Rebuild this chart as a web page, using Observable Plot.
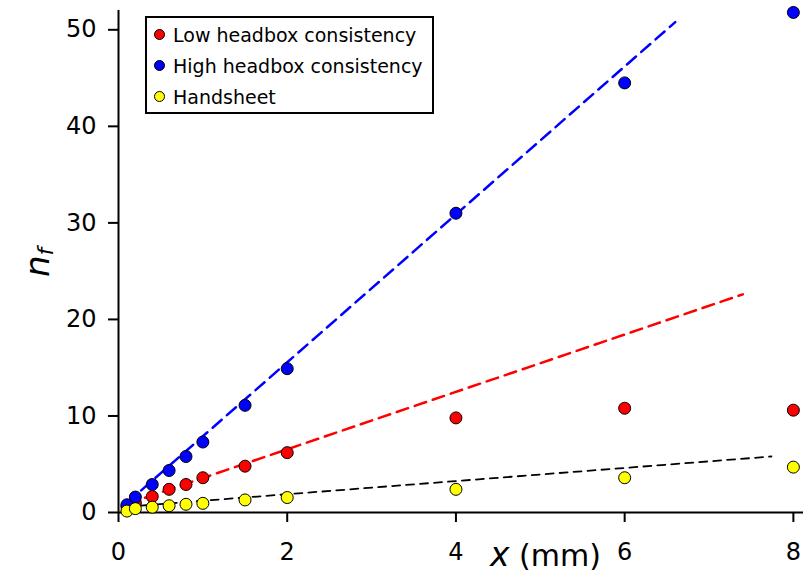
<!DOCTYPE html>
<html>
<head>
<meta charset="utf-8">
<script src="https://cdn.jsdelivr.net/npm/d3@7"></script>
<script src="https://cdn.jsdelivr.net/npm/@observablehq/plot@0.6"></script>
<style>
  html, body { margin: 0; padding: 0; background: #fff; }
  #wrap { position: relative; width: 811px; height: 577px; font-family: "DejaVu Sans", Verdana, sans-serif; }
  #legend { position: absolute; left: 145px; top: 16px; width: 285px; height: 94px; border: 2px solid #000; background: #fff; font-size: 19px; }
  .row { position: absolute; left: 0; height: 24px; line-height: 24px; white-space: nowrap; }
  .dot { position: absolute; left: 7px; top: 6px; width: 11px; height: 11px; border-radius: 50%; border: 1px solid #000; box-sizing: border-box; }
  .lab { position: absolute; left: 26px; top: 0; }
  #ytitle { position: absolute; left: 20px; top: 277px; transform: rotate(-90deg); transform-origin: 0 0; font-size: 34px; font-style: italic; white-space: nowrap; line-height: 1; }
  #ytitle sub { font-size: 22px; vertical-align: -4px; }
  #xtitle { position: absolute; left: 490px; top: 538px; white-space: nowrap; line-height: 1; }
</style>
</head>
<body>
<div id="wrap"></div>
<script>
// x positions (mm)
const xs = [0.1, 0.2, 0.4, 0.6, 0.8, 1.0, 1.5, 2, 4, 6, 8];
// n_f values
const lowHeadbox  = [0.6, 1.0, 1.65, 2.4, 2.9, 3.6, 4.8, 6.2, 9.8, 10.8, 10.6];
const highHeadbox = [0.8, 1.6, 2.9, 4.35, 5.8, 7.3, 11.1, 14.9, 31.0, 44.5, 51.8];
const handsheet   = [0.15, 0.4, 0.55, 0.7, 0.85, 0.95, 1.3, 1.55, 2.4, 3.6, 4.7];
// fitted line endpoints
const lowFitX  = [0.1, 7.4],  lowFitY  = [0.9, 22.6];
const highFitX = [0.1, 6.6],  highFitY = [1.0, 50.8];
const handFitX = [0.1, 7.74], handFitY = [0.6, 5.8];
// ticks
const xTicks = [0, 2, 4, 6, 8];
const yTicks = [0, 10, 20, 30, 40, 50];
const seriesNames = ["Low headbox consistency", "High headbox consistency", "Handsheet"];
const seriesColors = ["#ff0000", "#0000ff", "#ffff00"];

const toPts = (vals) => xs.map((x, i) => ({x, y: vals[i]}));
const toLine = (X, Y) => X.map((x, i) => ({x, y: Y[i]}));

const chart = Plot.plot({
  width: 811,
  height: 577,
  marginLeft: 118,
  marginRight: 8,
  marginTop: 10,
  marginBottom: 65,
  style: { fontFamily: "DejaVu Sans, Verdana, sans-serif", background: "#fff", overflow: "visible" },
  x: { domain: [0, 8.12] },
  y: { domain: [0, 52] },
  marks: [
    Plot.axisX({ ticks: xTicks, tickSize: 10, tickPadding: 20, tickFormat: d => String(d), fontSize: 24, stroke: "#000", strokeWidth: 2, color: "#000", label: null }),
    Plot.axisY({ ticks: yTicks, tickSize: 10, tickPadding: 12, tickFormat: d => String(d), fontSize: 24, stroke: "#000", strokeWidth: 2, color: "#000", label: null }),
    Plot.ruleX([0], { stroke: "#000", strokeWidth: 2 }),
    Plot.ruleY([0], { stroke: "#000", strokeWidth: 2 }),
    Plot.line(toLine(highFitX, highFitY), { x: "x", y: "y", stroke: "#0000ff", strokeWidth: 2.5, strokeDasharray: "12,7" }),
    Plot.line(toLine(lowFitX, lowFitY), { x: "x", y: "y", stroke: "#ff0000", strokeWidth: 2.5, strokeDasharray: "12,7" }),
    Plot.line(toLine(handFitX, handFitY), { x: "x", y: "y", stroke: "#000", strokeWidth: 1.8, strokeDasharray: "8,6" }),
    Plot.dot(toPts(lowHeadbox), { x: "x", y: "y", r: 6, fill: seriesColors[0], stroke: "#000", strokeWidth: 1, clip: false }),
    Plot.dot(toPts(highHeadbox), { x: "x", y: "y", r: 6, fill: seriesColors[1], stroke: "#000", strokeWidth: 1, clip: false }),
    Plot.dot(toPts(handsheet), { x: "x", y: "y", r: 6, fill: seriesColors[2], stroke: "#000", strokeWidth: 1, clip: false })
  ]
});

const wrap = document.getElementById("wrap");
wrap.appendChild(chart);

// legend
const legend = document.createElement("div");
legend.id = "legend";
seriesNames.forEach((name, i) => {
  const row = document.createElement("div");
  row.className = "row";
  row.style.top = (5 + i * 31) + "px";
  row.innerHTML = `<span class="dot" style="background:${seriesColors[i]}"></span><span class="lab">${name}</span>`;
  legend.appendChild(row);
});
wrap.appendChild(legend);

// axis titles
const yt = document.createElement("div");
yt.id = "ytitle";
yt.innerHTML = "n<sub>f</sub>";
wrap.appendChild(yt);

const xt = document.createElement("div");
xt.id = "xtitle";
xt.innerHTML = '<span style="font-style:italic;font-size:33px">x</span><span style="font-size:30px"> (mm)</span>';
wrap.appendChild(xt);
</script>
</body>
</html>
